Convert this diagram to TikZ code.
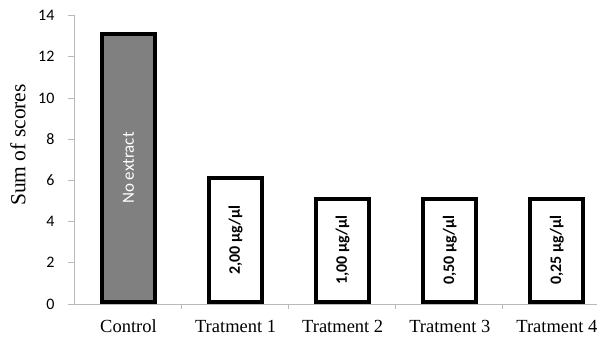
\documentclass[tikz,border=0pt]{standalone}
\usepackage{fontspec}
\setmainfont{Liberation Serif}
\newfontfamily\calfont{Carlito}
\begin{document}
\begin{tikzpicture}[
    x=1pt, y=1pt,
    bar/.style={rectangle, draw=black, line width=4pt, minimum width=53pt, inner sep=0pt, anchor=south},
    barlabel/.style={rotate=90, font=\calfont\fontsize{16}{16}\selectfont\bfseries},
    ticklabel/.style={anchor=east, font=\calfont\fontsize{16}{16}\selectfont, text=black},
    catlabel/.style={font=\fontsize{18.5}{18.5}\selectfont},
    axis/.style={draw=gray!55, line width=0.8pt},
]
\useasboundingbox (0,0) rectangle (597,341);

% Axes
\coordinate (origin) at (74,37);
\coordinate (ytop) at (74,326);
\coordinate (xend) at (597,37);
\draw[axis] (ytop) -- (origin) -- (xend);

% Y ticks
\foreach \v in {0,2,...,14} {
    \draw[axis] (68,37+\v*20.6) -- (74,37+\v*20.6);
    \node[ticklabel] (tick\v) at (58,37+\v*20.6) {\v};
}

% Category ticks
\foreach \k in {1,2,3,4} {
    \draw[axis] (74+\k*107.1,37) -- (74+\k*107.1,32);
}

% Y axis title
\node[rotate=90, font=\fontsize{21.5}{21.5}\selectfont] (ytitle) at (18,196) {Sum of scores};

% Bars
\node[bar, fill=gray, minimum height=13*20.6pt] (control) at (128.5,37) {};
\node[bar, fill=white, minimum height=6*20.6pt] (treat1) at (235.6,37) {};
\node[bar, fill=white, minimum height=5*20.6pt] (treat2) at (342.7,37) {};
\node[bar, fill=white, minimum height=5*20.6pt] (treat3) at (449.8,37) {};
\node[bar, fill=white, minimum height=5*20.6pt] (treat4) at (556.9,37) {};

% Bar labels
\node[rotate=90, text=white, font=\calfont\fontsize{17}{17}\selectfont] (nolab) at (control.center) {No extract};
\node[barlabel] (lab1) at (treat1.center) {2,00 µg/µl};
\node[barlabel] (lab2) at (treat2.center) {1,00 µg/µl};
\node[barlabel] (lab3) at (treat3.center) {0,50 µg/µl};
\node[barlabel] (lab4) at (treat4.center) {0,25 µg/µl};

% Category labels
\node[catlabel] (cat0) at (128.5,15) {Control};
\node[catlabel] (cat1) at (235.6,15) {Tratment 1};
\node[catlabel] (cat2) at (342.7,15) {Tratment 2};
\node[catlabel] (cat3) at (449.8,15) {Tratment 3};
\node[catlabel] (cat4) at (556.9,15) {Tratment 4};
\end{tikzpicture}
\end{document}
